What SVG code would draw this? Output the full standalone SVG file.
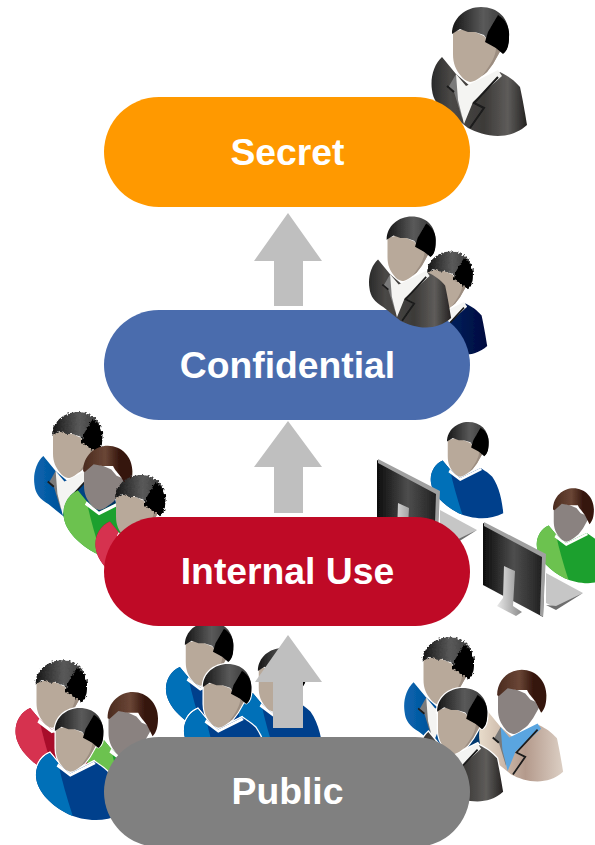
<svg xmlns="http://www.w3.org/2000/svg" width="595" height="845" viewBox="0 0 595 845">
<style>
.label{font-family:"Liberation Sans",Arial,sans-serif;font-weight:700;font-size:37.3px;fill:#fff;text-anchor:middle}
.arrow{fill:#bfbfbf}
.p{filter:url(#soft)}
.h{fill:#fff;color:#fff;stroke:#fff;stroke-width:3}
.blue{fill:#00408c;color:#0070b8}
.green{fill:#1fa02e;color:#6cc24f}
.red{fill:#a8102c;color:#d6304f}
.sgrey{fill:url(#gs);color:#f4f4f2}
.sblue{fill:url(#gb);color:#f4f4f2}
.snavy{fill:url(#gn);color:#f4f4f2}
.scream{fill:url(#gc);color:#5aa5e0}
</style>
<defs>
<filter id="soft" x="-10%" y="-10%" width="120%" height="120%"><feGaussianBlur stdDeviation=".5"/></filter>
<filter id="fuzz" x="-10%" y="-10%" width="120%" height="120%"><feTurbulence type="fractalNoise" baseFrequency=".45" numOctaves="1" seed="4"/><feDisplacementMap in="SourceGraphic" scale="5" xChannelSelector="R" yChannelSelector="G"/></filter>
<linearGradient id="hb" x1="0" x2="1" y1="0" y2="0"><stop offset="0" stop-color="#161616"/><stop offset=".55" stop-color="#5a5a5a"/><stop offset="1" stop-color="#333"/></linearGradient>
<linearGradient id="hr" x1="0" x2="1" y1="0" y2="0"><stop offset="0" stop-color="#4a2a1e"/><stop offset=".45" stop-color="#6a4636"/><stop offset=".75" stop-color="#34140c"/><stop offset="1" stop-color="#34140c"/></linearGradient>
<linearGradient id="gs" x1="0" x2="1" y1="0" y2="0"><stop offset="0" stop-color="#2a2a2a"/><stop offset=".2" stop-color="#4a4846"/><stop offset=".55" stop-color="#3c3a38"/><stop offset=".8" stop-color="#5e5c5a"/><stop offset="1" stop-color="#242220"/></linearGradient>
<linearGradient id="gb" x1="0" x2="1" y1="0" y2="0"><stop offset="0" stop-color="#0a66b0"/><stop offset=".35" stop-color="#004f98"/><stop offset="1" stop-color="#00305f"/></linearGradient>
<linearGradient id="gn" x1="0" x2="1" y1="0" y2="0"><stop offset="0" stop-color="#003a78"/><stop offset="1" stop-color="#00093f"/></linearGradient>
<linearGradient id="gc" x1="0" x2="1" y1="0" y2="0"><stop offset="0" stop-color="#e8dccb"/><stop offset=".55" stop-color="#b49a8c"/><stop offset="1" stop-color="#dccfc4"/></linearGradient>
<linearGradient id="mon" x1="0" x2="1" y1="0" y2="0"><stop offset="0" stop-color="#0c0c0c"/><stop offset=".5" stop-color="#4e4e4e"/><stop offset="1" stop-color="#1c1c1c"/></linearGradient>
<linearGradient id="stand" x1="0" x2="1" y1="0" y2="0"><stop offset="0" stop-color="#e8e8e8"/><stop offset="1" stop-color="#8a8a8a"/></linearGradient>
<path id="hairB" d="M-26,-6C-26,-22-12,-33 3,-33C20,-33 31,-22 31,-5C31,6 28,12 25,13L18,8C12,4 8,-2 6,-5L-3,-8L-10,-8L-18,-11Z"/>
<path id="lobe" d="M20,-25C28,-20 32,-12 31,-3C31,6 29,11 25,14L18,8L7,2L10,-8Z"/>
<path id="hairR" d="M-26,-2C-26,-20-12,-31 2,-31C18,-31 30,-18 30,-2C30,8 28,14 24,18L18,6C14,0 10,-3 8,-8L-4,-8L-14,-10L-24,-1Z"/>
<path id="faceS" d="M-25,-8L-14,-11L-3,-8L6,-4L12,3L24,8L15,24L9,32C2,38-4,42-8,42C-12,41-15,39-17,36C-22,30-25,24-25,14Z"/>
<path id="shade" d="M24,8L15,24L9,32L4,36C12,26 18,16 18,8Z"/>
<g id="headB"><use href="#faceS" fill="#b8a99a"/><use href="#shade" fill="#9c8d80"/><use href="#hairB" fill="url(#hb)"/><use href="#lobe" fill="#000"/></g>
<g id="headS"><use href="#faceS" fill="#b8a99a"/><use href="#shade" fill="#9c8d80"/><g filter="url(#fuzz)"><use href="#hairB" fill="url(#hb)"/><use href="#lobe" fill="#000"/></g></g>
<g id="headR"><use href="#faceS" fill="#8a8280"/><use href="#hairR" fill="url(#hr)"/></g>
<g id="sweater"><path d="M-32,20C-42,24-50,36-48,50C-46,66-30,82-10,92C6,99 30,103 51,92C50,78 46,56 36,42C30,36 26,34 20,30L-8,44L-22,32Z"/><path d="M-32,20C-42,24-50,36-48,50C-46,66-30,82-10,92L-5,94C-12,72-18,52-22,32Z" fill="currentColor"/><path d="M-22,32L-8,44L20,30L22,33L-8,48L-24,36Z" fill="#fff"/></g>
<g id="suit"><path d="M-36,17C-44,24-48,38-46,50C-45,60-40,66-30,72L-10,88C5,96 30,102 49,85C47,72 44,56 42,47C36,40 30,36 22,32L-8,46L-22,34Z"/><path d="M-22,34L-30,48L-24,52L-16,78L-14,50Z" fill="#7a7a7a"/><path d="M-22,34L-12,46L20,30L24,36L-5,62L-14,84L-20,60Z" fill="currentColor"/><path d="M20,37L-4,63L6,68L-8,88M-31,46L-24,52" fill="none" stroke="#1a1a1a" stroke-width="2"/></g>
<g id="monitor"><path d="M483,523L545,555L543,617L483,585Z" fill="url(#mon)"/><path d="M484,522L546,554L543,617L540,615L542,557L484,526Z" fill="#a0a0a0"/><path d="M504,566L515,571L513,606L522,612L516,616L497,606L503,598Z" fill="url(#stand)"/><path d="M546,573L583,593L556,608L546,603Z" fill="#c6c6c6"/><path d="M583,593L556,610L546,605L556,606Z" fill="#6e6e6e"/></g>
</defs>

<g id="secret-person" class="p" transform="translate(478 40)"><use href="#suit" class="sgrey"/><use href="#headB"/></g>
<g id="confidential-rear" class="p" transform="translate(448 278) scale(.8)"><use href="#suit" class="snavy"/><use href="#headS"/></g>
<g id="internal-left-1" class="p" transform="translate(75 441) scale(.88)"><use href="#suit" class="sblue"/><use href="#headS"/></g>
<g id="internal-left-2" class="p" transform="translate(106 473) scale(.88)"><use href="#sweater" class="green"/><use href="#headR"/></g>
<g id="internal-left-3" class="p" transform="translate(138 504) scale(.88)"><use href="#sweater" class="red"/><use href="#headS"/></g>
<g id="internal-right-1" class="p" transform="translate(466 446) scale(.73)"><use href="#sweater" class="blue"/><use href="#headB"/></g>
<g id="monitor-1" class="p" transform="translate(-106 -63)"><use href="#monitor"/></g>
<g id="internal-right-2" class="p" transform="translate(572 511) scale(.73)"><use href="#sweater" class="green"/><use href="#headR"/></g>
<g id="monitor-2" class="p"><use href="#monitor"/></g>
<g id="public-left-1" class="p" transform="translate(59 690) scale(.9)"><use href="#sweater" class="red"/><use href="#headS"/></g>
<g id="public-left-2" class="p" transform="translate(131 720) scale(.9)"><use href="#sweater" class="green"/><use href="#headR"/></g>
<g id="public-left-3" class="p" transform="translate(77 736) scale(.85)"><use href="#sweater" class="h"/><use href="#faceS" class="h"/><use href="#hairB" class="h"/><use href="#sweater" class="blue"/><use href="#headB"/></g>
<g id="public-mid-1" class="p" transform="translate(207 650) scale(.85)"><use href="#sweater" class="blue"/><use href="#headB"/></g>
<g id="public-mid-3" class="p" transform="translate(280 676) scale(.85)"><use href="#sweater" class="blue"/><use href="#headB"/></g>
<g id="public-mid-2" class="p" transform="translate(225 692) scale(.85)"><use href="#sweater" class="h"/><use href="#faceS" class="h"/><use href="#hairB" class="h"/><use href="#sweater" class="blue"/><use href="#headB"/></g>
<g id="public-right-1" class="p" transform="translate(446 667) scale(.9)"><use href="#suit" class="sblue"/><use href="#headS"/></g>
<g id="public-right-2" class="p" transform="translate(520 697) scale(.88)"><use href="#suit" class="scream"/><use href="#headR"/></g>
<g id="public-right-3" class="p" transform="translate(460 717) scale(.88)"><use href="#suit" class="h"/><use href="#faceS" class="h"/><use href="#hairB" class="h"/><use href="#suit" class="sgrey"/><use href="#headB"/></g>

<g id="connectors">
<path id="arrow-1" class="arrow" d="M288,213L322,261H303V306H274V261H254Z"/>
<path id="arrow-2" class="arrow" d="M288,421L322,467H303V513H274V467H254Z"/>
<path id="arrow-3" class="arrow" d="M288,635L322,682H303V728H273V682H255Z"/>
</g>

<g id="secret"><rect x="104" y="97" width="366" height="110" rx="55" fill="#ff9900"/><text class="label" x="287.500" y="165">Secret</text></g>
<g id="confidential"><rect x="104" y="310" width="366" height="110" rx="55" fill="#4a6cad"/><text class="label" x="287.500" y="378">Confidential</text></g>
<g id="internal-use"><rect x="104" y="517" width="366" height="109" rx="54.500" fill="#bf0a26"/><text class="label" x="287.500" y="584">Internal Use</text></g>
<g id="public"><rect x="104" y="737" width="366" height="110" rx="55" fill="#808080"/><text class="label" x="287.500" y="804">Public</text></g>
<g id="confidential-front" class="p" transform="translate(409 245) scale(.86)"><use href="#suit" class="sgrey"/><use href="#headB"/></g>
</svg>
